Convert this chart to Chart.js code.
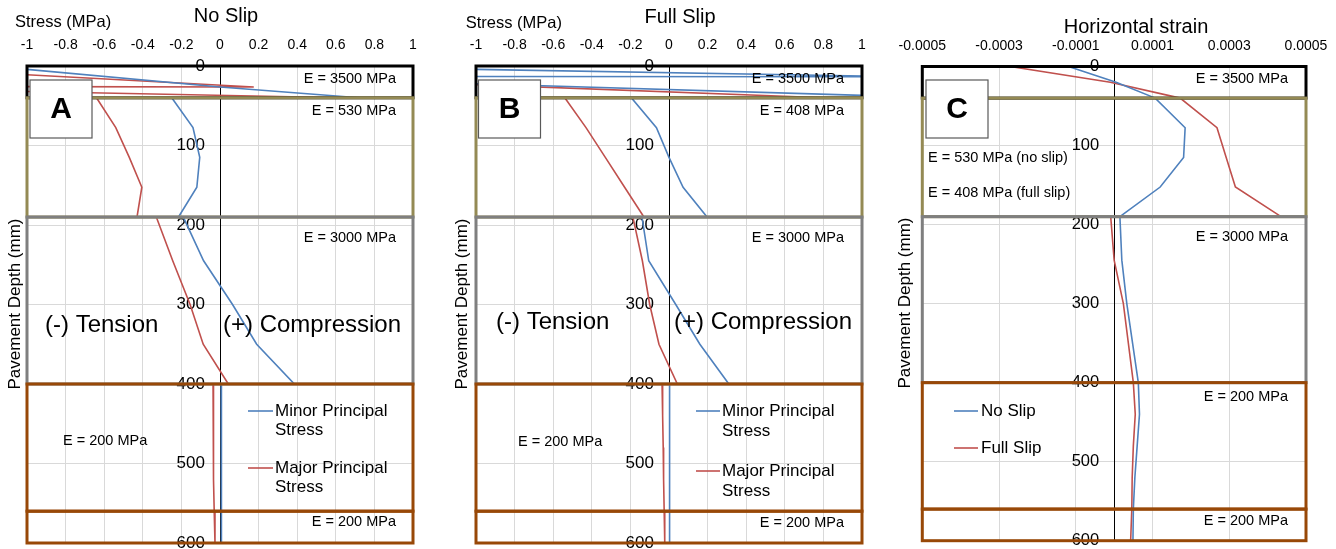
<!DOCTYPE html>
<html>
<head>
<meta charset="utf-8">
<script src="https://cdn.jsdelivr.net/npm/chart.js@4.4.1/dist/chart.umd.min.js"></script>
<style>
  html, body { margin: 0; padding: 0; background: #fff; }
  .panel { position: absolute; top: 0; width: 446px; height: 549px; }
</style>
</head>
<body>
<div class="panel" style="left:0"><canvas id="chartA" width="446" height="549"></canvas></div>
<div class="panel" style="left:449px"><canvas id="chartB" width="446" height="549"></canvas></div>
<div class="panel" style="left:890px"><canvas id="chartC" width="446" height="549"></canvas></div>
<script>
// pavement layers (depth in mm)
const layerTop = [0, 40, 190, 400, 560];
const layerBottom = [40, 190, 400, 560, 600];
const layerColors = ['#000000', '#948A54', '#7F7F7F', '#984807', '#984807'];

// A - no slip, stress (MPa)
const minorDepthA = [0, 26.4, 40, 40, 77.5, 115, 152.5, 190, 190, 245, 300, 350, 400, 400, 440, 480, 520, 560, 600];
const minorA = [-1.19, 0.0, 0.72, -0.25, -0.14, -0.105, -0.12, -0.215, -0.19, -0.085, 0.065, 0.19, 0.385, 0.006, 0.01, 0.008, 0.007, 0.006, 0.006];
const majorDepthA = [0, 26.4, 25.5, 40, 40, 77.5, 115, 152.5, 190, 190, 245, 300, 350, 400, 400, 440, 480, 520, 560, 600];
const majorA = [-1.83, 0.175, -2.33, 0.63, -0.64, -0.54, -0.47, -0.405, -0.43, -0.33, -0.245, -0.155, -0.087, 0.043, -0.036, -0.035, -0.034, -0.032, -0.03, -0.026];

// B - full slip, stress (MPa)
const minorDepthB = [0, 13.5, 12.9, 40, 40, 77.5, 115, 152.5, 190, 190, 245, 300, 350, 400, 400, 440, 480, 520, 560, 600];
const minorB = [-2.0, 1.21, -2.29, 1.42, -0.195, -0.065, 0.0, 0.073, 0.197, -0.14, -0.105, 0.035, 0.16, 0.31, 0.003, 0.003, 0.003, 0.003, 0.003, 0.003];
const majorDepthB = [0, 40, 40, 77.5, 115, 152.5, 190, 190, 245, 300, 350, 400, 400, 440, 480, 520, 560, 600];
const majorB = [-3.56, 0.8, -0.54, -0.43, -0.33, -0.23, -0.13, -0.187, -0.138, -0.1, -0.052, 0.043, -0.036, -0.033, -0.03, -0.028, -0.025, -0.022];

// C - horizontal strain
const noSlipDepth = [0, 20, 40, 77.5, 115, 152.5, 190, 245, 300, 350, 400, 440, 480, 520, 560, 600];
const noSlip = [-1.19e-4, 0.05e-4, 1.07e-4, 1.85e-4, 1.81e-4, 1.2e-4, 0.15e-4, 0.2e-4, 0.33e-4, 0.48e-4, 0.63e-4, 0.66e-4, 0.6e-4, 0.54e-4, 0.5e-4, 0.49e-4];
const fullSlipDepth = [0, 20, 40, 77.5, 115, 152.5, 190, 190, 245, 300, 350, 400, 440, 480, 520, 560, 600];
const fullSlip = [-2.71e-4, -0.1e-4, 1.72e-4, 2.68e-4, 2.92e-4, 3.16e-4, 4.35e-4, -0.09e-4, 0.0, 0.24e-4, 0.37e-4, 0.5e-4, 0.55e-4, 0.5e-4, 0.47e-4, 0.46e-4, 0.43e-4];

const FONT = "'Liberation Sans', Arial, sans-serif";
const BLUE = '#4F81BD';
const RED = '#C0504D';

// layer outlines go over the lines, like the drawn boxes in the original
const layersPlugin = {
  id: 'layers',
  afterDatasetsDraw(chart) {
    const {ctx, chartArea: a, scales: {y}} = chart;
    ctx.save();
    ctx.lineWidth = 3;
    layerTop.forEach((t, i) => {
      const y0 = y.getPixelForValue(t);
      const y1 = y.getPixelForValue(layerBottom[i]);
      ctx.strokeStyle = layerColors[i];
      ctx.strokeRect(a.left, y0, a.right - a.left, y1 - y0);
    });
    ctx.restore();
  }
};

function text(ctx, s, x, y, size, align, bold) {
  ctx.font = (bold ? 'bold ' : '') + size + 'px ' + FONT;
  ctx.textAlign = align || 'left';
  ctx.textBaseline = 'middle';
  ctx.fillStyle = '#000';
  ctx.fillText(s, x, y);
}

const decorPlugin = {
  id: 'decor',
  afterDraw(chart, args, o) {
    const ctx = chart.ctx;
    ctx.save();
    // letter box
    ctx.fillStyle = '#fff';
    ctx.fillRect(o.box.x, o.box.y, o.box.w, o.box.h);
    ctx.strokeStyle = '#595959';
    ctx.lineWidth = 1.2;
    ctx.strokeRect(o.box.x, o.box.y, o.box.w, o.box.h);
    text(ctx, o.box.letter, o.box.x + o.box.w / 2, o.box.y + o.box.h / 2 + 1, 30, 'center', true);

    o.labels.forEach(l => text(ctx, l[0], l[1], l[2], l[3], l[4]));

    // y axis title
    ctx.save();
    ctx.translate(o.yTitle.x, o.yTitle.y);
    ctx.rotate(-Math.PI / 2);
    text(ctx, 'Pavement Depth (mm)', 0, 0, 17, 'center');
    ctx.restore();

    // legend
    const lg = o.legend;
    chart.data.datasets.forEach((ds, i) => {
      const y = lg.y[i];
      ctx.strokeStyle = ds.borderColor;
      ctx.lineWidth = 1.6;
      ctx.beginPath();
      ctx.moveTo(lg.x0, y);
      ctx.lineTo(lg.x1, y);
      ctx.stroke();
      lg.text[i].forEach((s, k) => text(ctx, s, lg.tx, y + k * lg.gap, 17, 'left'));
    });
    ctx.restore();
  }
};

function makePanel(id, p) {
  const noPad = s => { s.paddingTop = 0; s.paddingBottom = 0; };
  return new Chart(document.getElementById(id), {
    type: 'scatter',
    data: {
      datasets: p.series.map(s => ({
        label: s.label,
        yAxisID: 'y',
        data: s.depth.map((d, i) => ({x: s.values[i], y: d})),
        showLine: true,
        borderColor: s.color,
        backgroundColor: s.color,
        borderWidth: 1.6,
        pointRadius: 0,
        pointHoverRadius: 0,
        tension: 0
      }))
    },
    options: {
      responsive: false,
      animation: false,
      events: [],
      layout: {padding: {left: p.left, right: p.right, top: 0, bottom: p.bottom}},
      plugins: {
        legend: {display: false},
        tooltip: {enabled: false},
        decor: p.decor
      },
      scales: {
        x: {
          type: 'linear',
          position: 'top',
          min: p.xMin,
          max: p.xMax,
          ticks: {
            stepSize: p.xStep,
            padding: 12,
            color: '#000',
            autoSkip: false,
            maxRotation: 0,
            font: {family: FONT, size: 14},
            callback: v => String(Number(v.toFixed(p.digits)))
          },
          grid: {color: '#D9D9D9', drawTicks: false},
          border: {display: false},
          afterFit: s => { s.height = p.top; s.paddingLeft = 0; s.paddingRight = 0; }
        },
        // depth axis crossing at x = 0 (line + grid)
        y: {
          type: 'linear',
          position: {x: 0},
          reverse: true,
          min: 0,
          max: 600,
          ticks: {stepSize: 100, display: false},
          grid: {color: '#D9D9D9', drawTicks: false},
          border: {display: true, color: '#000', width: 1},
          afterFit: noPad
        },
        // same depth axis, only its labels, set a little left of x = 0
        yLab: {
          axis: 'y',
          type: 'linear',
          position: {x: p.labelAt},
          reverse: true,
          min: 0,
          max: 600,
          ticks: {stepSize: 100, color: '#000', font: {family: FONT, size: p.ySize}},
          grid: {display: false},
          border: {display: false},
          afterFit: noPad
        }
      }
    },
    plugins: [layersPlugin, decorPlugin]
  });
}

makePanel('chartA', {
  xMin: -1, xMax: 1, xStep: 0.2, digits: 2, ySize: 17, labelAt: -0.078,
  left: 27, right: 33, top: 66, bottom: 6,
  series: [
    {label: 'Minor Principal Stress', depth: minorDepthA, values: minorA, color: BLUE},
    {label: 'Major Principal Stress', depth: majorDepthA, values: majorA, color: RED}
  ],
  decor: {
    box: {letter: 'A', x: 30, y: 80, w: 62, h: 58},
    yTitle: {x: 15, y: 304},
    labels: [
      ['Stress (MPa)', 15, 22, 16.5, 'left'],
      ['No Slip', 226, 16, 20, 'center'],
      ['E = 3500 MPa', 396, 79, 14.5, 'right'],
      ['E = 530 MPa', 396, 111, 14.5, 'right'],
      ['E = 3000 MPa', 396, 238, 14.5, 'right'],
      ['E = 200 MPa', 63, 441, 14.5, 'left'],
      ['E = 200 MPa', 396, 522, 14.5, 'right'],
      ['(-) Tension', 45, 325, 24, 'left'],
      ['(+) Compression', 223, 325, 24, 'left']
    ],
    legend: {x0: 248, x1: 273, tx: 275, gap: 19.5, y: [411, 468],
      text: [['Minor Principal', 'Stress'], ['Major Principal', 'Stress']]}
  }
});

makePanel('chartB', {
  xMin: -1, xMax: 1, xStep: 0.2, digits: 2, ySize: 17, labelAt: -0.078,
  left: 27, right: 33, top: 66, bottom: 6,
  series: [
    {label: 'Minor Principal Stress', depth: minorDepthB, values: minorB, color: BLUE},
    {label: 'Major Principal Stress', depth: majorDepthB, values: majorB, color: RED}
  ],
  decor: {
    box: {letter: 'B', x: 29.5, y: 80, w: 62, h: 58},
    yTitle: {x: 13.5, y: 304},
    labels: [
      ['Stress (MPa)', 16.7, 23, 16.5, 'left'],
      ['Full Slip', 231, 17, 20, 'center'],
      ['E = 3500 MPa', 395, 79, 14.5, 'right'],
      ['E = 408 MPa', 395, 111, 14.5, 'right'],
      ['E = 3000 MPa', 395, 238, 14.5, 'right'],
      ['E = 200 MPa', 69, 442, 14.5, 'left'],
      ['E = 200 MPa', 395, 523, 14.5, 'right'],
      ['(-) Tension', 47, 322, 24, 'left'],
      ['(+) Compression', 225, 322, 24, 'left']
    ],
    legend: {x0: 247, x1: 271, tx: 273, gap: 20, y: [411, 471],
      text: [['Minor Principal', 'Stress'], ['Major Principal', 'Stress']]}
  }
});

makePanel('chartC', {
  xMin: -0.0005, xMax: 0.0005, xStep: 0.0002, digits: 4, ySize: 16.5, labelAt: -0.000039,
  left: 32.3, right: 30, top: 66.5, bottom: 8.3,
  series: [
    {label: 'No Slip', depth: noSlipDepth, values: noSlip, color: BLUE},
    {label: 'Full Slip', depth: fullSlipDepth, values: fullSlip, color: RED}
  ],
  decor: {
    box: {letter: 'C', x: 36, y: 80, w: 62, h: 58},
    yTitle: {x: 15, y: 303},
    labels: [
      ['Horizontal strain', 246, 27, 20, 'center'],
      ['E = 3500 MPa', 398, 79, 14.5, 'right'],
      ['E = 530 MPa (no slip)', 38, 158, 14.5, 'left'],
      ['E = 408 MPa (full slip)', 38, 193, 14.5, 'left'],
      ['E = 3000 MPa', 398, 237, 14.5, 'right'],
      ['E = 200 MPa', 398, 397, 14.5, 'right'],
      ['E = 200 MPa', 398, 521, 14.5, 'right']
    ],
    legend: {x0: 64, x1: 88, tx: 91, gap: 0, y: [411, 448],
      text: [['No Slip'], ['Full Slip']]}
  }
});
</script>
</body>
</html>
